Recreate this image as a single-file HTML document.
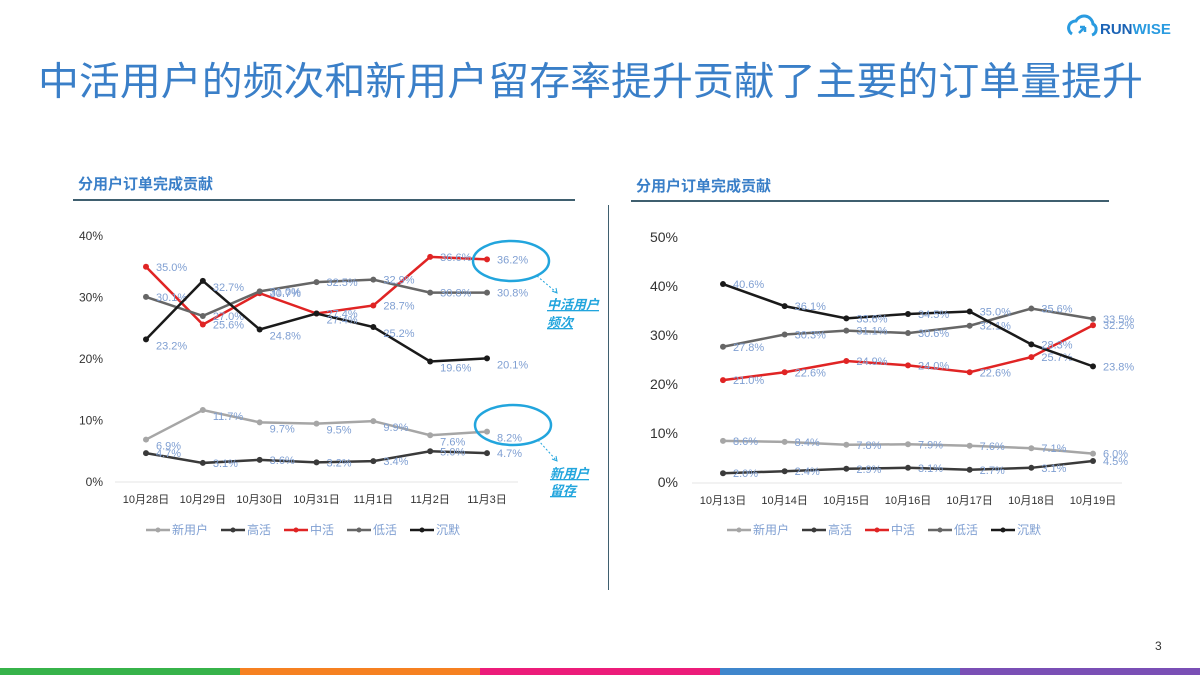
<!DOCTYPE html>
<html><head><meta charset="utf-8">
<style>
html,body{margin:0;padding:0;background:#fff;}
#root{position:relative;width:1200px;height:675px;overflow:hidden;font-family:"Liberation Sans","Noto Sans CJK SC",sans-serif;}
svg text{font-family:"Liberation Sans","Noto Sans CJK SC",sans-serif;}
</style></head>
<body>
<div id="root">
<svg id="svg" width="1200" height="675" viewBox="0 0 1200 675">
  <g>
    <path d="M1072 34 a7 7 0 0 1 4 -13 a9 9 0 0 1 17 3 a6 6 0 0 1 -1 11" fill="none" stroke="#2a9be0" stroke-width="3"/>
    <path d="M1079 33 l6 -6 m0 0 l-5 0 m5 0 l0 5" stroke="#2a9be0" stroke-width="2.5" fill="none"/>
    <text x="1100" y="34" font-size="15" font-weight="bold" fill="#1b63b5">RUN<tspan fill="#2a9be0">WISE</tspan></text>
  </g>
  <text x="38" y="95" font-size="39" textLength="1105" lengthAdjust="spacingAndGlyphs" fill="#3a7fc8">中活用户的频次和新用户留存率提升贡献了主要的订单量提升</text>
  <text x="78" y="189" font-size="15" font-weight="bold" fill="#3a7fc8">分用户订单完成贡献</text>
  <rect x="73" y="199" width="502" height="2" fill="#3f5f6f"/>
  <text x="636" y="191" font-size="15" font-weight="bold" fill="#3a7fc8">分用户订单完成贡献</text>
  <rect x="631" y="200" width="478" height="2" fill="#3f5f6f"/>
  <rect x="608" y="205" width="1" height="385" fill="#3f5f6f"/>
  <text x="1155" y="650" font-size="12" fill="#333">3</text>
  <g>
    <rect x="0" y="668" width="240" height="7" fill="#37b34a"/>
    <rect x="240" y="668" width="240" height="7" fill="#f68121"/>
    <rect x="480" y="668" width="240" height="7" fill="#ec1c7a"/>
    <rect x="720" y="668" width="240" height="7" fill="#3f86cc"/>
    <rect x="960" y="668" width="240" height="7" fill="#7a4fb5"/>
  </g>
  <g id="left"></g>
  <g id="right"></g>
  <g>
    <ellipse cx="511" cy="261" rx="38" ry="20" fill="none" stroke="#22a5dd" stroke-width="2.5"/>
    <ellipse cx="513" cy="425" rx="38" ry="20" fill="none" stroke="#22a5dd" stroke-width="2.5"/>
    <line x1="537" y1="276" x2="556" y2="292" stroke="#22a5dd" stroke-dasharray="2,2"/>
    <path d="M552 291 l5 2 l-1 -5" fill="none" stroke="#22a5dd"/>
    <line x1="538" y1="440" x2="556" y2="460" stroke="#22a5dd" stroke-dasharray="2,2"/>
    <path d="M552 459 l5 2 l-1 -5" fill="none" stroke="#22a5dd"/>
    <text x="547" y="309" font-size="13" font-weight="bold" font-style="italic" fill="#22a5dd" text-decoration="underline"><tspan x="547">中活用户</tspan><tspan x="547" dy="18">频次</tspan></text>
    <text x="550" y="478" font-size="13" font-weight="bold" font-style="italic" fill="#22a5dd" text-decoration="underline"><tspan x="550">新用户</tspan><tspan x="550" dy="17">留存</tspan></text>
  </g>
</svg>
</div>
<script>
const seriesNames = ['新用户','高活','中活','低活','沉默'];
const seriesColors = ['#a6a6a6','#3a3a3a','#e02424','#666666','#1a1a1a'];
const leftCats = ['10月28日','10月29日','10月30日','10月31日','11月1日','11月2日','11月3日'];
const leftNew = [6.9,11.7,9.7,9.5,9.9,7.6,8.2];
const leftHigh = [4.7,3.1,3.6,3.2,3.4,5.0,4.7];
const leftMid = [35.0,25.6,30.7,27.4,28.7,36.6,36.2];
const leftLow = [30.1,27.0,31.0,32.5,32.9,30.8,30.8];
const leftSilent = [23.2,32.7,24.8,27.4,25.2,19.6,20.1];
const leftTicks = [0,10,20,30,40];
const rightCats = ['10月13日','10月14日','10月15日','10月16日','10月17日','10月18日','10月19日'];
const rightNew = [8.6,8.4,7.8,7.9,7.6,7.1,6.0];
const rightHigh = [2.0,2.4,2.9,3.1,2.7,3.1,4.5];
const rightMid = [21.0,22.6,24.9,24.0,22.6,25.7,32.2];
const rightLow = [27.8,30.3,31.1,30.6,32.1,35.6,33.5];
const rightSilent = [40.6,36.1,33.6,34.5,35.0,28.3,23.8];
const rightTicks = [0,10,20,30,40,50];

const NS='http://www.w3.org/2000/svg';
function mk(tag, attrs, parent){const e=document.createElementNS(NS,tag);for(const k in attrs)e.setAttribute(k,attrs[k]);parent.appendChild(e);return e;}

function draw(g, cfg){
  const {cats, series, ticks, x0, x1, y0, ymax, yTop, axisL, axisR, tickX, tickSize, legendX} = cfg;
  const xs = i => x0 + (x1-x0)*i/(cats.length-1);
  const ys = v => y0 - (y0-yTop)*v/ymax;
  ticks.forEach(t=>{
    const tx=mk('text',{x:tickX,y:ys(t)+4,'font-size':tickSize,fill:'#333','text-anchor':'end'},g);
    
    
    tx.textContent=t+'%';
  });
  const ax=mk('line',{x1:axisL,x2:axisR,y1:y0,y2:y0,stroke:'#e4e4e4'},g);
  
  
  cats.forEach((c,i)=>{
    const t=mk('text',{x:xs(i),y:y0+21,'font-size':11,fill:'#333','text-anchor':'middle'},g);
    
    
    t.textContent=c;
  });
  series.forEach((vals,si)=>{
    const pts=vals.map((v,i)=>xs(i)+','+ys(v)).join(' ');
    const pl=mk('polyline',{points:pts,fill:'none',stroke:seriesColors[si],'stroke-width':2.5},g);
    
    
    vals.forEach((v,i)=>{
      const c=mk('circle',{cx:xs(i),cy:ys(v),r:3,fill:seriesColors[si]},g);
      
      
      const l=mk('text',{x:xs(i)+10,y:ys(v)+4+(cfg.labOff[si]||0),'font-size':11,fill:'#7f9fd2'},g);
      
      
      l.textContent=v.toFixed(1)+'%';
    });
  });
  let lx=legendX;
  seriesNames.forEach((n,si)=>{
    const e=mk('g',{},g);
    
    
    mk('line',{x1:lx,x2:lx+24,y1:530,y2:530,stroke:seriesColors[si],'stroke-width':2.5},e);
    mk('circle',{cx:lx+12,cy:530,r:2.5,fill:seriesColors[si]},e);
    const t=mk('text',{x:lx+26,y:534,'font-size':12,fill:'#7f9fd2'},e);
    t.textContent=n;
    lx+=26+n.length*12+13;
  });
}
draw(document.getElementById('left'),{cats:leftCats,series:[leftNew,leftHigh,leftMid,leftLow,leftSilent],ticks:leftTicks,
  x0:146,x1:487,y0:482,ymax:40,yTop:236,axisL:115,axisR:518,tickX:103,tickSize:12,legendX:146,labOff:[6,0,0,0,6]});
draw(document.getElementById('right'),{cats:rightCats,series:[rightNew,rightHigh,rightMid,rightLow,rightSilent],ticks:rightTicks,
  x0:723,x1:1093,y0:483,ymax:50,yTop:238,axisL:692,axisR:1122,tickX:678,tickSize:14,legendX:727,labOff:[0,0,0,0,0]});
</script>
</body></html>
